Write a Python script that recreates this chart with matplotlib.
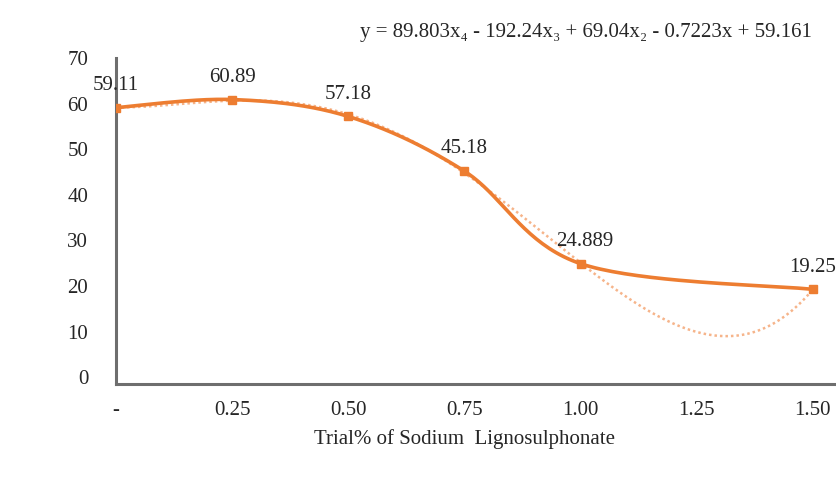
import numpy as np
import matplotlib.pyplot as plt

# dosage of sodium lignosulphonate (%) and measured response
dosage = [0.0, 0.25, 0.50, 0.75, 1.00, 1.50]
response = [59.11, 60.89, 57.18, 45.18, 24.889, 19.25]
point_labels = ["59.11", "60.89", "57.18", "45.18", "24.889", "19.25"]

x_ticks = [0.0, 0.25, 0.50, 0.75, 1.00, 1.25, 1.50]
x_tick_labels = ["-", "0.25", "0.50", "0.75", "1.00", "1.25", "1.50"]
y_ticks = [0, 10, 20, 30, 40, 50, 60, 70]

# 4th order polynomial trendline, highest power first
trend_coef = [89.803, -192.24, 69.04, -0.7223, 59.161]
trend_text = "y = 89.803x\u2084 - 192.24x\u2083 + 69.04x\u2082 - 0.7223x + 59.161"

ORANGE = "#ED7D31"
GRAY = "#6e6e6e"
TEXT = "#262626"
FS = 15

plt.rcParams["font.family"] = ["Liberation Serif", "DejaVu Serif"]


def smooth_curve(xs, ys, n=40):
    # cardinal (Catmull-Rom style) bezier smoothing like a spreadsheet "smoothed line"
    xs = np.asarray(xs, float)
    ys = np.asarray(ys, float)
    px = np.concatenate([[xs[0]], xs, [xs[-1]]])
    py = np.concatenate([[ys[0]], ys, [ys[-1]]])
    out_x, out_y = [], []
    t = np.linspace(0, 1, n)
    for i in range(1, len(px) - 2):
        p0 = np.array([px[i], py[i]])
        p3 = np.array([px[i + 1], py[i + 1]])
        c1 = p0 + (np.array([px[i + 1], py[i + 1]]) - np.array([px[i - 1], py[i - 1]])) / 6
        c2 = p3 - (np.array([px[i + 2], py[i + 2]]) - np.array([px[i], py[i]])) / 6
        b = (((1 - t) ** 3)[:, None] * p0 + (3 * (1 - t) ** 2 * t)[:, None] * c1
             + (3 * (1 - t) * t ** 2)[:, None] * c2 + (t ** 3)[:, None] * p3)
        out_x.extend(b[:, 0])
        out_y.extend(b[:, 1])
    return np.array(out_x), np.array(out_y)


fig = plt.figure(figsize=(8.37, 4.78), dpi=100)
ax = fig.add_axes([0.1386, 0.1967, 0.8614, 0.682])

# trendline
xt = np.linspace(dosage[0], dosage[-1], 300)
ax.plot(xt, np.polyval(trend_coef, xt), color="#F6B48A", lw=1.8,
        linestyle=(0, (1, 1.2)), zorder=2)

# smoothed data line with markers
sx, sy = smooth_curve(dosage, response)
ax.plot(sx, sy, color=ORANGE, lw=2.6, zorder=3, solid_capstyle="round")
ax.plot(dosage, response, "s", color=ORANGE, ms=6, zorder=4)

for x, y, lab in zip(dosage, response, point_labels):
    dx = 3 if lab == "24.889" else 0
    ax.annotate(lab, (x, y), xytext=(dx, 16), textcoords="offset points",
                ha="center", va="center", fontsize=FS, color=TEXT,
                annotation_clip=False)

ax.set_xlim(0, 1.552)
ax.set_ylim(-1.5, 70)
ax.set_xticks(x_ticks)
ax.set_xticklabels(x_tick_labels)
ax.set_yticks(y_ticks)
ax.tick_params(length=0, labelsize=FS, colors=TEXT)
ax.tick_params(axis="x", pad=12)
ax.tick_params(axis="y", pad=20)

for side in ("top", "right"):
    ax.spines[side].set_visible(False)
for side in ("left", "bottom"):
    ax.spines[side].set_color(GRAY)
    ax.spines[side].set_linewidth(2.2)

# axis title centred under the data range
fig.text(465 / 837, 1 - 439 / 478, "Trial% of Sodium  Lignosulphonate",
         ha="center", va="center", fontsize=FS, color=TEXT)

fig.text(812 / 837, 1 - 33 / 478, trend_text, ha="right", va="center",
         fontsize=FS, color=TEXT)

fig.savefig("out.png", dpi=100, facecolor="white")
